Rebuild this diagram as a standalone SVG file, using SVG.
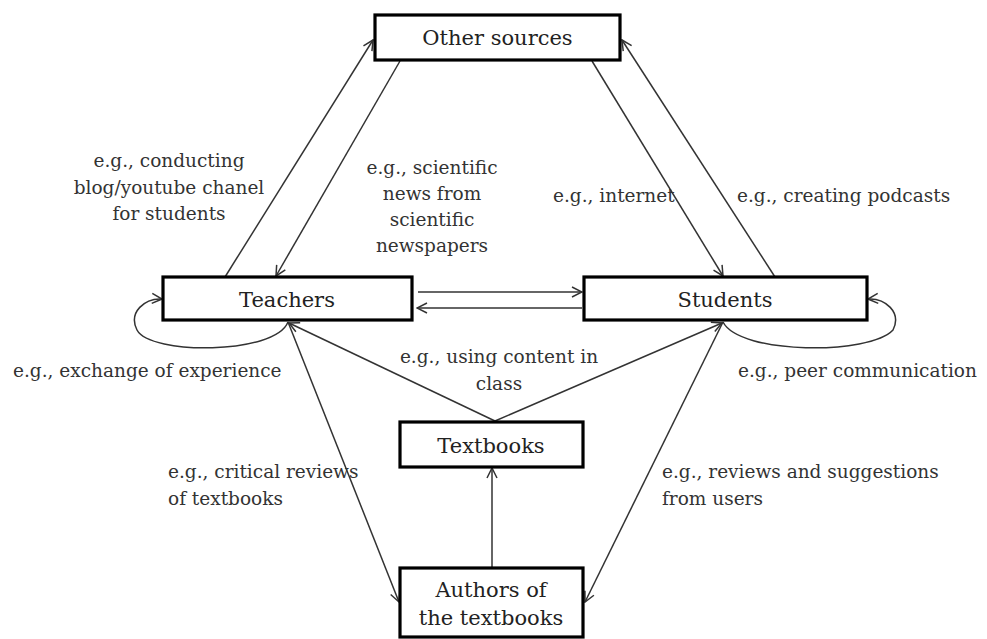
<svg xmlns="http://www.w3.org/2000/svg" width="987" height="639" viewBox="0 0 987 639">
<style>
.box{fill:#fff;stroke:#000;stroke-width:3.2}
.nt{font-family:"DejaVu Serif","Liberation Serif",serif;font-size:21px;fill:#222;text-anchor:middle}
.lb{font-family:"DejaVu Serif","Liberation Serif",serif;font-size:18.5px;fill:#333}
.c{text-anchor:middle}
.ln{fill:none;stroke:#333;stroke-width:1.5;marker-end:url(#ah)}
</style>
<defs>
<marker id="ah" viewBox="0 0 12 12" refX="11" refY="6" markerWidth="12" markerHeight="12" markerUnits="userSpaceOnUse" orient="auto">
<path d="M1,1 L11,6 L1,11" fill="none" stroke="#333" stroke-width="1.5"/>
</marker>
</defs>
<rect width="987" height="639" fill="#fff"/>
<g id="connectors">
<path class="ln" d="M225,277 L373,40"/>
<path class="ln" d="M400,61 L276,276"/>
<path class="ln" d="M592,61 L723,276"/>
<path class="ln" d="M775,277 L622,40"/>
<path class="ln" d="M418,292 L582,292"/>
<path class="ln" d="M582,308 L417,308"/>
<path class="ln" d="M288,322 C275,355 150,355 137,330 C128,312 145,298 162,299"/>
<path class="ln" d="M723,322 C740,355 870,355 893,330 C902,312 885,298 868,299"/>
<path class="ln" d="M495,421 L289,323"/>
<path class="ln" d="M495,421 L722,323"/>
<path class="ln" d="M288,322 L399,602"/>
<path class="ln" d="M723,322 L585,602"/>
<path class="ln" d="M492,568 L492,468"/>
</g>
<g id="other-sources">
<rect class="box" x="375" y="15" width="245" height="45"/>
<text class="nt" x="497.5" y="45">Other sources</text>
</g>
<g id="teachers">
<rect class="box" x="163" y="277" width="249" height="43"/>
<text class="nt" x="287" y="307">Teachers</text>
</g>
<g id="students">
<rect class="box" x="584" y="277" width="283" height="43"/>
<text class="nt" x="725" y="307">Students</text>
</g>
<g id="textbooks">
<rect class="box" x="400" y="422" width="183" height="45"/>
<text class="nt" x="491" y="453">Textbooks</text>
</g>
<g id="authors">
<rect class="box" x="400" y="568" width="183" height="69"/>
<text class="nt" x="491" y="597">Authors of</text>
<text class="nt" x="491" y="625">the textbooks</text>
</g>
<g id="labels">
<text class="lb c" x="169" y="167">e.g., conducting</text>
<text class="lb c" x="169" y="193.5">blog/youtube chanel</text>
<text class="lb c" x="169" y="220">for students</text>
<text class="lb c" x="432" y="174">e.g., scientific</text>
<text class="lb c" x="432" y="200">news from</text>
<text class="lb c" x="432" y="226">scientific</text>
<text class="lb c" x="432" y="252">newspapers</text>
<text class="lb" x="553" y="202">e.g., internet</text>
<text class="lb" x="737" y="202">e.g., creating podcasts</text>
<text class="lb" x="13" y="377">e.g., exchange of experience</text>
<text class="lb c" x="499" y="363">e.g., using content in</text>
<text class="lb c" x="499" y="390">class</text>
<text class="lb" x="738" y="377">e.g., peer communication</text>
<text class="lb" x="168" y="478">e.g., critical reviews</text>
<text class="lb" x="168" y="505">of textbooks</text>
<text class="lb" x="662" y="478">e.g., reviews and suggestions</text>
<text class="lb" x="662" y="505">from users</text>
</g>
</svg>
